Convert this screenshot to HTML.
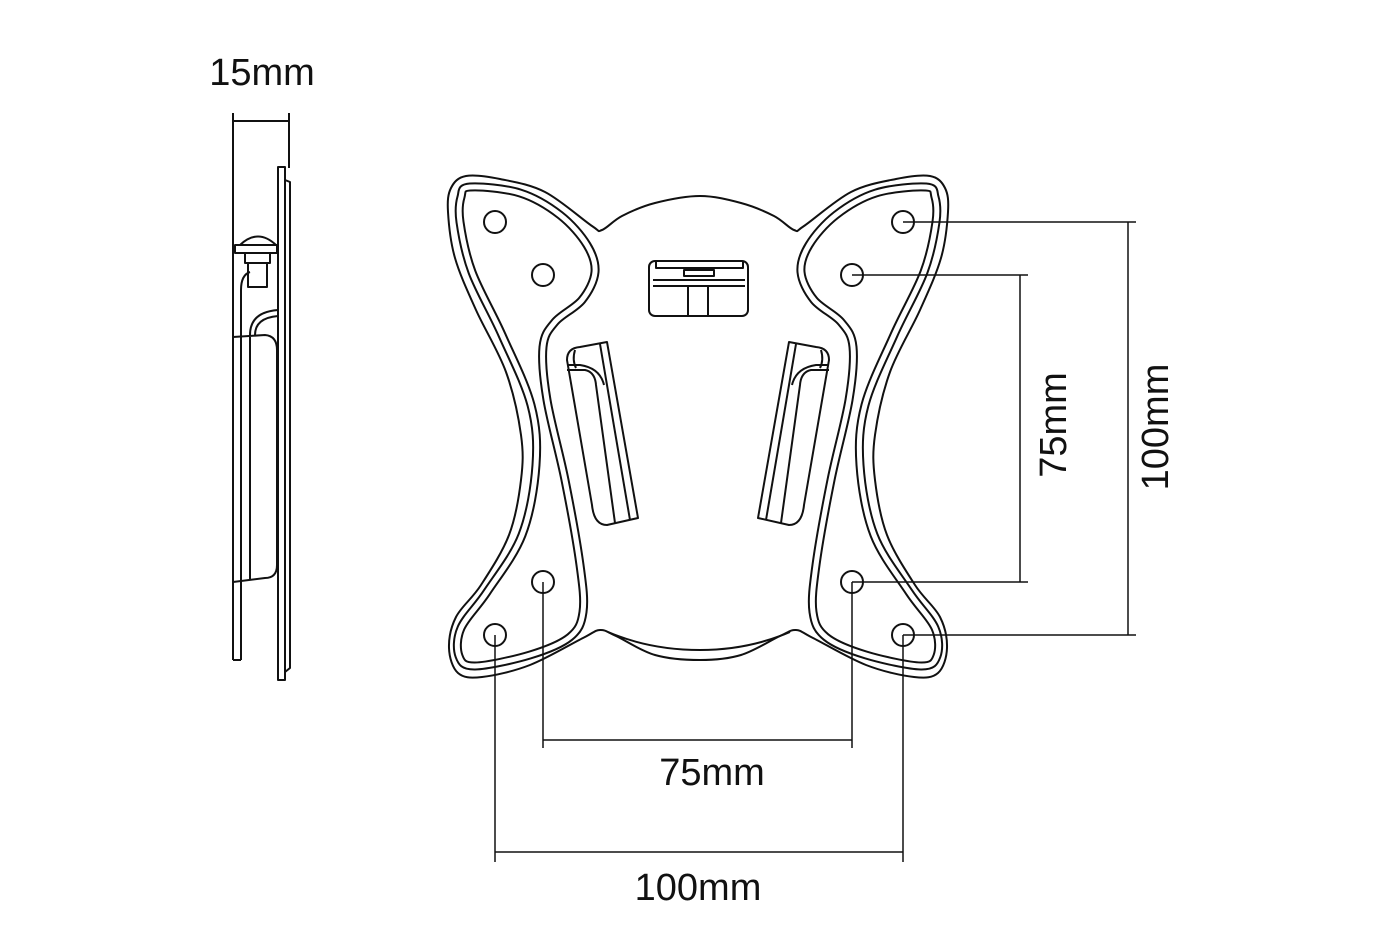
<!DOCTYPE html>
<html><head><meta charset="utf-8"><style>
html,body{margin:0;padding:0;background:#fff;}
svg{display:block;}
text{font-family:"Liberation Sans",sans-serif;font-size:38px;fill:#111;}
</style></head><body>
<svg id="s" width="1400" height="934" viewBox="0 0 1400 934" xmlns="http://www.w3.org/2000/svg">
<g fill="none" stroke="#111" stroke-width="2" stroke-linejoin="round">
<!-- side view -->
<line x1="233" y1="113" x2="233" y2="660"/>
<line x1="289" y1="113" x2="289" y2="168"/>
<line x1="233" y1="121" x2="289" y2="121"/>
<line x1="241" y1="290" x2="241" y2="660"/>
<line x1="233" y1="660" x2="241" y2="660"/>
<rect x="278" y="167" width="7" height="513"/>
<path d="M285 180 L290 182 L290 668 L285 672"/>
<path d="M240 245 Q258 228 276 245 Z"/>
<rect x="235" y="245" width="42" height="8"/>
<rect x="245" y="253" width="25" height="10"/>
<rect x="248" y="263" width="19" height="24"/>
<path d="M241 290 Q241 275 250 272"/>
<path d="M250 335 Q250 312 278 310"/>
<path d="M255 335 Q255 318 278 316"/>
<path d="M233 337 L265 335 Q277 336 277 350 L277 565 Q277 578 265 578 L233 582"/>
<line x1="250" y1="337" x2="250" y2="580"/>
<path id="outer" d=""/>
<path d="M608 632 Q650 650 700 650 Q748 650 790 632"/>
<g id="lobe">
<path id="r1" stroke-width="9" d=""/>
<path id="r2" stroke="#fff" stroke-width="5" d=""/>
</g>
<use href="#lobe" transform="translate(1396,0) scale(-1,1)"/>
<circle cx="495" cy="222" r="11"/><circle cx="543" cy="275" r="11"/>
<circle cx="903" cy="222" r="11"/><circle cx="852" cy="275" r="11"/>
<circle cx="543" cy="582" r="11"/><circle cx="852" cy="582" r="11"/>
<circle cx="495" cy="635" r="11"/><circle cx="903" cy="635" r="11"/>
<rect x="649" y="261" width="99" height="55" rx="6"/>
<path d="M656 262 L656 268 L743 268 L743 262"/>
<line x1="653" y1="280" x2="745" y2="280"/><line x1="653" y1="286" x2="745" y2="286"/>
<rect x="684" y="270" width="30" height="6"/>
<line x1="688" y1="286" x2="688" y2="315"/><line x1="708" y1="286" x2="708" y2="315"/>
<g id="slot">
<path d="M567 360 Q567 348 580 347 L607 342 L638 518 L607 525 Q594 525 592 505 Z"/>
<path d="M567 370 L585 370 Q595 372 596 385 L615 523"/>
<path d="M568 365 L580 365 Q600 368 604 385"/>
<line x1="600" y1="344" x2="630" y2="520"/>
<path d="M575 350 Q572 360 576 368"/>
</g>
<use href="#slot" transform="translate(1396,0) scale(-1,1)"/>
</g>
<g stroke="#111" stroke-width="1.5" fill="none">
<line x1="903" y1="222" x2="1136" y2="222"/>
<line x1="903" y1="635" x2="1136" y2="635"/>
<line x1="1128" y1="222" x2="1128" y2="635"/>
<line x1="852" y1="275" x2="1028" y2="275"/>
<line x1="852" y1="582" x2="1028" y2="582"/>
<line x1="1020" y1="275" x2="1020" y2="582"/>
<line x1="495" y1="635" x2="495" y2="862"/>
<line x1="903" y1="635" x2="903" y2="862"/>
<line x1="495" y1="852" x2="903" y2="852"/>
<line x1="543" y1="582" x2="543" y2="748"/>
<line x1="852" y1="582" x2="852" y2="748"/>
<line x1="543" y1="740" x2="852" y2="740"/>
</g>
<text x="262" y="85" text-anchor="middle">15mm</text>
<text x="712" y="785" text-anchor="middle">75mm</text>
<text x="698" y="900" text-anchor="middle">100mm</text>
<text transform="translate(1066,425) rotate(-90)" text-anchor="middle">75mm</text>
<text transform="translate(1168,427) rotate(-90)" text-anchor="middle">100mm</text>
</svg>
<script>
function cr(p){var n=p.length,d="M"+p[0][0]+" "+p[0][1];
for(var i=0;i<n;i++){var a=p[(i-1+n)%n],b=p[i],c=p[(i+1)%n],e=p[(i+2)%n];
var c1=[b[0]+(c[0]-a[0])/6,b[1]+(c[1]-a[1])/6],c2=[c[0]-(e[0]-b[0])/6,c[1]-(e[1]-b[1])/6];
d+=" C"+c1[0].toFixed(1)+" "+c1[1].toFixed(1)+" "+c2[0].toFixed(1)+" "+c2[1].toFixed(1)+" "+c[0]+" "+c[1];}
return d+"Z";}
var L=[[700,196],[655,203],[622,216],[602,230],[592,226],[545,192],[500,179],[466,176],[451,188],[448,212],[455,258],[476,310],[506,372],[521,435],[521,480],[509,535],[481,585],[456,617],[449,648],[458,673],[482,677],[530,665],[583,638],[600,630],[616,636],[655,655],[700,660]];
var full=L.slice();
for(var i=L.length-2;i>0;i--)full.push([1396-L[i][0],L[i][1]]);
document.getElementById("outer").setAttribute("d",cr(full));
var R=[[470,187],[520,193],[560,215],[587,245],[595,272],[582,300],[555,322],[543,347],[547,400],[565,480],[580,565],[583,612],[570,637],[530,655],[475,666],[459,656],[461,628],[487,592],[522,535],[536,465],[531,405],[502,335],[472,272],[460,222],[461,197]];
var rd=cr(R);
document.getElementById("r1").setAttribute("d",rd);
document.getElementById("r2").setAttribute("d",rd);
</script>
</body></html>
